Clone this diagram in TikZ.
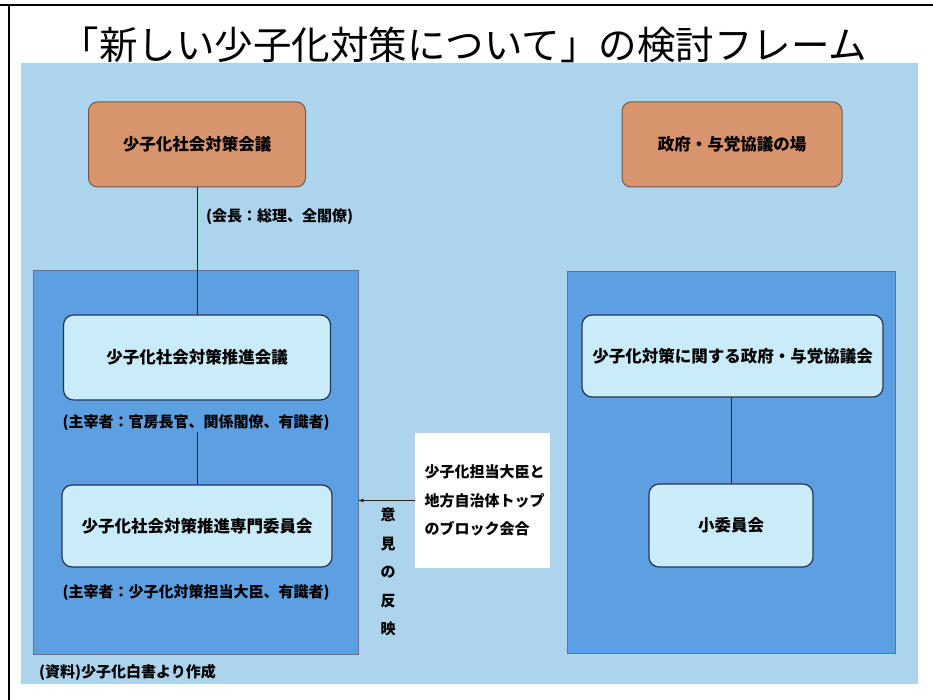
\documentclass[tikz,border=0pt]{standalone}
\usepackage{fontspec}
\setmainfont{Noto Sans CJK JP}
\usetikzlibrary{arrows.meta}
\definecolor{bgblue}{RGB}{172,212,236}
\definecolor{panelblue}{RGB}{92,160,226}
\definecolor{boxblue}{RGB}{202,236,249}
\definecolor{orangebox}{RGB}{216,148,108}
\definecolor{orangeline}{RGB}{110,90,80}
\definecolor{navy}{RGB}{40,50,80}
\tikzset{
  orgbox/.style={draw=orangeline, line width=1pt, fill=orangebox, rounded corners=9pt, inner sep=0pt,
     font=\fontsize{16.5}{19}\selectfont\bfseries},
  bluebox/.style={draw=navy, line width=1.2pt, fill=boxblue, rounded corners=10pt, inner sep=0pt,
     font=\fontsize{16.5}{19}\selectfont\bfseries},
  panel/.style={draw=navy!70, line width=0.8pt, fill=panelblue, inner sep=0pt},
  lbl/.style={font=\fontsize{15}{18}\selectfont\bfseries, inner sep=1pt},
  stacklbl/.style={font=\fontsize{15}{28.5}\selectfont\bfseries, inner sep=1pt},
  conn/.style={draw=black!85, line width=0.8pt}
}
\begin{document}
\begin{tikzpicture}[x=1pt,y=-1pt]
\useasboundingbox (0,0) rectangle (933,700);
\fill[white] (0,0) rectangle (933,700);
% background
\fill[bgblue] (21,63) rectangle (918,684);
% frame
\draw[line width=2.5pt] (0,5) -- (933,5);
\draw[line width=2.5pt] (9,5) -- (9,700);
% title
\node[font=\fontsize{38.5}{42}\selectfont, inner sep=0pt] (title) at (464,45) {「新しい少子化対策について」の検討フレーム};
% panels
\node[panel, minimum width=325pt, minimum height=384pt] (lp) at (195.5,462) {};
\node[panel, minimum width=328pt, minimum height=382pt] (rp) at (731,462) {};
% orange boxes
\node[orgbox, minimum width=217pt, minimum height=85pt] (lo) at (197,144.5) {少子化社会対策会議};
\node[orgbox, minimum width=220pt, minimum height=85pt] (ro) at (732,144.5) {政府・与党協議の場};
% left inner boxes
\node[bluebox, minimum width=267pt, minimum height=85pt] (lb1) at (197,357.5) {少子化社会対策推進会議};
\node[bluebox, minimum width=270pt, minimum height=82pt] (lb2) at (197,526) {少子化社会対策推進専門委員会};
% right inner boxes
\node[bluebox, minimum width=301pt, minimum height=82pt] (rb1) at (732.5,356) {少子化対策に関する政府・与党協議会};
\node[bluebox, minimum width=164pt, minimum height=83pt] (rb2) at (731,525.5) {小委員会};
% labels
\node[lbl, anchor=west] (lab0) at (205,217) {(会長：総理、全閣僚)};
\node[lbl] (lab1) at (196,423) {(主宰者：官房長官、関係閣僚、有識者)};
\node[lbl] (lab2) at (196,593) {(主宰者：少子化対策担当大臣、有識者)};
% white box
\node[fill=white, minimum width=135pt, minimum height=135pt, inner sep=0pt] (wb) at (482.5,500.5) {};
\node[stacklbl, align=left, anchor=center] (wbt) at ([xshift=2pt]wb.center) {少子化担当大臣と\\地方自治体トップ\\のブロック会合};
% vertical label
\node[stacklbl, align=center] (vt) at (388,572) {意\\見\\の\\反\\映};
% footnote
\node[lbl, anchor=west] (foot) at (38,672) {(資料)少子化白書より作成};
% connectors
\draw[conn] (lo.south) -- (lb1.north);
\draw[conn] (lb2.north) -- (lb2.north |- lab1.south);
\draw[conn] (rb1.south -| rb2.north) -- (rb2.north);
\draw[conn, -{Stealth[length=6pt,width=4pt]}] (wb.west) -- (wb.west -| lp.east);
\end{tikzpicture}
\end{document}
